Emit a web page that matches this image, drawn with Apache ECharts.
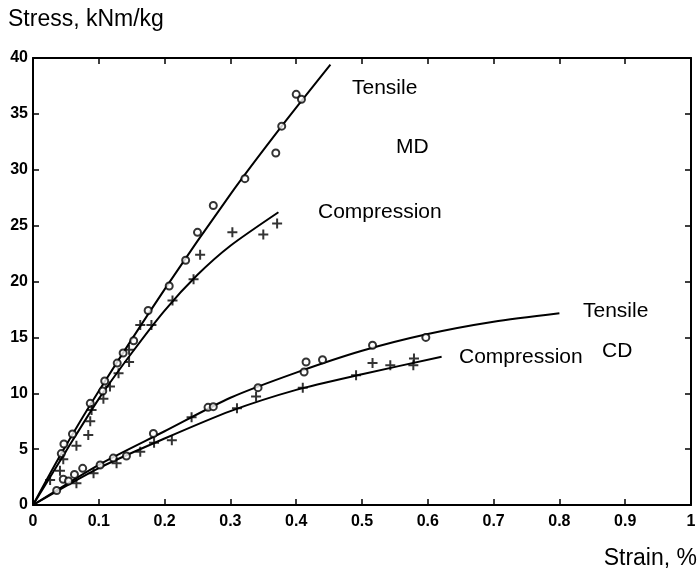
<!DOCTYPE html>
<html>
<head>
<meta charset="utf-8">
<script src="https://cdn.jsdelivr.net/npm/echarts@6/dist/echarts.min.js"></script>
<style>
  html, body { margin: 0; padding: 0; background: #fff; }
  #chart { width: 699px; height: 573px; }
</style>
</head>
<body>
<div id="chart"></div>
<script>
// fitted curves (strain %, stress kNm/kg)
const mdTensileLine = [[0, 0], [0.043, 4.6], [0.1, 10.2], [0.2, 19.3], [0.3, 27.8], [0.378, 33.9], [0.452, 39.4]];
const mdCompLine = [[0, 0], [0.05, 4.8], [0.1, 9.5], [0.15, 13.6], [0.2, 17.4], [0.25, 20.6], [0.3, 23.2], [0.373, 26.2]];
const cdTensileLine = [[0, 0], [0.1, 3.6], [0.2, 6.6], [0.3, 9.6], [0.4, 11.85], [0.5, 13.8], [0.6, 15.3], [0.7, 16.4], [0.8, 17.15]];
const cdCompLine = [[0, 0], [0.1, 3.3], [0.2, 5.95], [0.3, 8.4], [0.4, 10.3], [0.5, 11.7], [0.621, 13.27]];

// measured points
const mdTensilePts = [
  [0.043, 4.6], [0.047, 5.46], [0.06, 6.35], [0.087, 9.1], [0.106, 10.2], [0.109, 11.1],
  [0.128, 12.7], [0.137, 13.6], [0.153, 14.7], [0.175, 17.4], [0.207, 19.6], [0.232, 21.9],
  [0.25, 24.4], [0.274, 26.8], [0.322, 29.2], [0.369, 31.5], [0.378, 33.9], [0.4, 36.75], [0.408, 36.3]
];
const mdCompPts = [
  [0.026, 2.24], [0.041, 3.07], [0.046, 4.1], [0.066, 5.3], [0.084, 6.26], [0.087, 7.5],
  [0.089, 8.5], [0.107, 9.5], [0.117, 10.6], [0.13, 11.8], [0.146, 12.8], [0.146, 13.9],
  [0.163, 16.1], [0.18, 16.1], [0.212, 18.3], [0.244, 20.2], [0.254, 22.4], [0.303, 24.4],
  [0.35, 24.2], [0.371, 25.2]
];
const cdTensilePts = [
  [0.036, 1.3], [0.046, 2.3], [0.054, 2.15], [0.063, 2.74], [0.0755, 3.28], [0.102, 3.58],
  [0.122, 4.2], [0.142, 4.38], [0.183, 6.4], [0.266, 8.74], [0.274, 8.8], [0.342, 10.5],
  [0.412, 11.9], [0.415, 12.8], [0.44, 13.0], [0.516, 14.3], [0.597, 15.0]
];
const cdCompPts = [
  [0.066, 1.94], [0.092, 2.83], [0.127, 3.73], [0.163, 4.77], [0.184, 5.58], [0.211, 5.8],
  [0.241, 7.85], [0.31, 8.65], [0.339, 9.7], [0.41, 10.5], [0.491, 11.6], [0.516, 12.7],
  [0.543, 12.5], [0.578, 12.5], [0.579, 13.1]
];

const xTicks = [0, 0.1, 0.2, 0.3, 0.4, 0.5, 0.6, 0.7, 0.8, 0.9, 1];
const yTicks = [0, 5, 10, 15, 20, 25, 30, 35, 40];

const plusSymbol = 'path://M4,0H6V4H10V6H6V10H4V6H0V4H4Z';
const tickFont = '"Liberation Sans Narrow", "Liberation Sans", Arial, sans-serif';
const textFont = '"Liberation Sans", Arial, sans-serif';

const chart = echarts.init(document.getElementById('chart'));

const lineSeries = (data) => ({
  type: 'line',
  data: data,
  smooth: 0.25,
  showSymbol: false,
  symbol: 'none',
  lineStyle: { color: '#000', width: 2 },
  silent: true,
  z: 2
});

const scatterSeries = (data, isPlus) => ({
  type: 'scatter',
  data: data,
  symbol: isPlus ? plusSymbol : 'emptyCircle',
  symbolSize: isPlus ? 10 : 7,
  itemStyle: isPlus
    ? { color: '#000' }
    : { color: '#000', borderColor: '#000', borderWidth: 1.5 },
  z: 3
});

const axisCommon = {
  type: 'value',
  axisLine: { show: true, onZero: false, lineStyle: { color: '#000', width: 2 } },
  axisTick: { show: true, inside: true, length: 6, lineStyle: { color: '#000', width: 1.5 } },
  splitLine: { show: false }
};

const option = {
  animation: false,
  backgroundColor: '#fff',
  grid: { left: 33, right: 8, top: 58, bottom: 68 },
  xAxis: [
    Object.assign({}, axisCommon, {
      position: 'bottom', min: 0, max: 1, interval: 0.1,
      axisLabel: {
        color: '#000', fontFamily: tickFont, fontWeight: 'bold', fontSize: 16, margin: 9,
        formatter: (v) => xTicks.includes(+v.toFixed(1)) ? String(+v.toFixed(1)) : ''
      }
    }),
    Object.assign({}, axisCommon, {
      position: 'top', min: 0, max: 1, interval: 0.1, axisLabel: { show: false }
    })
  ],
  yAxis: [
    Object.assign({}, axisCommon, {
      position: 'left', min: 0, max: 40, interval: 5,
      axisLabel: {
        color: '#000', fontFamily: tickFont, fontWeight: 'bold', fontSize: 16, margin: 5,
        formatter: (v) => yTicks.includes(v) ? String(v) : ''
      }
    }),
    Object.assign({}, axisCommon, {
      position: 'right', min: 0, max: 40, interval: 5, axisLabel: { show: false }
    })
  ],
  series: [
    lineSeries(mdTensileLine),
    lineSeries(mdCompLine),
    lineSeries(cdTensileLine),
    lineSeries(cdCompLine),
    scatterSeries(mdTensilePts, false),
    scatterSeries(mdCompPts, true),
    scatterSeries(cdTensilePts, false),
    scatterSeries(cdCompPts, true)
  ],
  graphic: [
    { type: 'text', left: 8, top: 8, style: { text: 'Stress, kNm/kg', font: '23px ' + textFont, fill: '#000' } },
    { type: 'text', right: 2, top: 547, style: { text: 'Strain, %', font: '23px ' + textFont, fill: '#000' } },
    { type: 'text', left: 352, top: 78, style: { text: 'Tensile', font: '21px ' + textFont, fill: '#000' } },
    { type: 'text', left: 396, top: 137, style: { text: 'MD', font: '21px ' + textFont, fill: '#000' } },
    { type: 'text', left: 318, top: 202, style: { text: 'Compression', font: '21px ' + textFont, fill: '#000' } },
    { type: 'text', left: 583, top: 301, style: { text: 'Tensile', font: '21px ' + textFont, fill: '#000' } },
    { type: 'text', left: 602, top: 341, style: { text: 'CD', font: '21px ' + textFont, fill: '#000' } },
    { type: 'text', left: 459, top: 347, style: { text: 'Compression', font: '21px ' + textFont, fill: '#000' } }
  ]
};

chart.setOption(option);
</script>
</body>
</html>
